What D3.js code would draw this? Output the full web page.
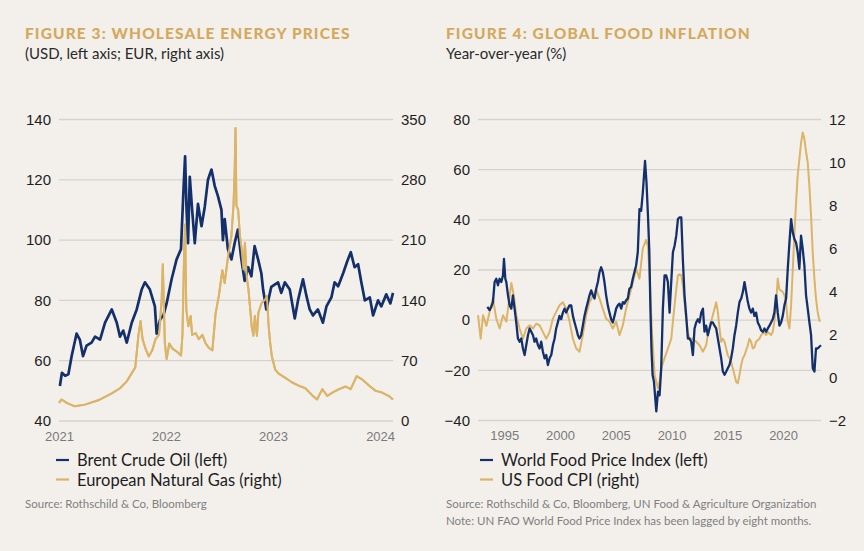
<!DOCTYPE html>
<html><head><meta charset="utf-8">
<script src="https://cdn.jsdelivr.net/npm/d3@7"></script>
<style>
html,body{margin:0;padding:0;background:#f3f0ec;}
svg{display:block;font-family:Lato,"Noto Sans",sans-serif;}
</style></head><body>
<svg id="c" width="864" height="551"></svg>
<script>
// ---------- FIGURE 3 DATA ----------
const brentData = [
["2021-01-04",51.6],["2021-01-11",56],["2021-01-22",55],["2021-02-02",55.5],["2021-02-13",61.5],["2021-03-02",69],["2021-03-13",67],["2021-03-24",61.5],["2021-04-05",65],["2021-04-22",66],["2021-05-04",68],["2021-05-21",67],["2021-06-07",72.6],["2021-06-30",77],["2021-07-17",72.6],["2021-07-28",68],["2021-08-08",70],["2021-08-20",66],["2021-09-06",72.6],["2021-09-23",77],["2021-10-10",83.6],["2021-10-21",86],["2021-11-07",83.6],["2021-11-24",78],["2021-11-30",69],["2021-12-12",73.7],["2021-12-23",75],
["2022-01-03",79],["2022-01-20",87],["2022-02-06",93.6],["2022-02-21",97],["2022-03-01",115.7],["2022-03-07",127.8],["2022-03-12",110],["2022-03-17",99],["2022-03-23",121],["2022-03-31",110],["2022-04-09",99],["2022-04-20",112],["2022-05-02",104.6],["2022-05-13",111],["2022-05-24",120],["2022-06-05",123.4],["2022-06-16",118],["2022-06-27",114.6],["2022-07-09",110],["2022-07-14",100],["2022-07-20",107],["2022-07-31",97],["2022-08-12",93.6],["2022-08-23",99],["2022-09-03",103.5],["2022-09-15",93.6],["2022-09-26",86.5],["2022-10-08",91],["2022-10-19",88],["2022-10-30",98],["2022-11-11",93.6],["2022-11-22",89],["2022-11-28",83.6],["2022-12-09",77],["2022-12-26",84.5],
["2023-01-18",86],["2023-01-29",82.5],["2023-02-10",86],["2023-02-27",83.6],["2023-03-16",74],["2023-03-27",80],["2023-04-13",87],["2023-04-25",81.4],["2023-05-06",77],["2023-05-17",75],["2023-06-03",77],["2023-06-20",72.6],["2023-07-02",78],["2023-07-19",81],["2023-07-30",86],["2023-08-11",84.7],["2023-08-28",89],["2023-09-11",93],["2023-09-23",96],["2023-10-06",91],["2023-10-18",92],["2023-10-29",86],["2023-11-10",80],["2023-11-27",81],["2023-12-08",75],["2023-12-25",80],
["2024-01-05",78],["2024-01-22",82],["2024-02-05",79],["2024-02-14",82.5]
];
const gasData = [
["2021-01-01",21],["2021-01-10",25],["2021-01-27",21],["2021-02-24",17],["2021-03-30",19],["2021-05-15",24],["2021-06-30",32],["2021-07-28",38],["2021-08-20",46],["2021-09-18",62],["2021-09-29",100],["2021-10-06",116],["2021-10-13",95],["2021-10-22",85],["2021-11-03",75],["2021-11-15",82],["2021-11-26",95],["2021-12-08",100],["2021-12-17",140],["2021-12-21",182],["2021-12-28",90],
["2022-01-03",72],["2022-01-12",90],["2022-01-23",84],["2022-02-09",80],["2022-02-21",76],["2022-02-26",100],["2022-03-04",200],["2022-03-07",228],["2022-03-11",130],["2022-03-18",110],["2022-03-26",122],["2022-03-31",100],["2022-04-12",102],["2022-04-23",95],["2022-05-05",100],["2022-05-16",90],["2022-05-27",85],["2022-06-08",82],["2022-06-19",125],["2022-06-30",145],["2022-07-12",175],["2022-07-20",160],["2022-07-31",190],["2022-08-12",215],["2022-08-19",250],["2022-08-23",290],["2022-08-26",340],["2022-08-29",250],["2022-09-04",245],["2022-09-10",215],["2022-09-16",199],["2022-09-22",176],["2022-09-27",207],["2022-10-03",168],["2022-10-09",153],["2022-10-15",130],["2022-10-20",110],["2022-10-26",99],["2022-10-31",122],["2022-11-07",99],["2022-11-12",126],["2022-11-23",137],["2022-12-05",141],["2022-12-11",145],["2022-12-17",110],["2022-12-22",91],["2022-12-28",75],
["2023-01-08",60],["2023-01-20",55],["2023-02-12",50],["2023-03-06",45],["2023-03-29",41],["2023-04-21",38],["2023-05-14",30],["2023-05-31",25],["2023-06-18",37],["2023-07-05",29],["2023-07-22",33],["2023-08-14",37],["2023-09-06",40],["2023-09-23",37],["2023-10-13",52],["2023-11-02",48],["2023-11-25",41],["2023-12-17",35],
["2024-01-08",33],["2024-01-31",29],["2024-02-14",25]
];
const energyYearTicks = ["2021-01-01","2022-01-01","2023-01-01","2024-01-01"];
const energyDomain = ["2021-01-01","2024-02-14"];
const brentTicks = [40,60,80,100,120,140];
const gasTicks = [0,70,140,210,280,350];

// ---------- FIGURE 4 DATA (decimal year, % y/y) ----------
const wfpiData = [
[1993.48,5.3],[1993.68,4],[1993.83,5.3],[1993.98,7.2],[1994.13,15.2],[1994.28,16.5],[1994.43,13.9],[1994.58,16.5],[1994.73,15.2],[1994.88,17.8],[1994.97,24.4],[1995.09,16.5],[1995.18,15.2],[1995.33,9.9],[1995.48,5.9],[1995.63,4.6],[1995.77,9.9],[1995.92,4.6],[1996.07,-0.9],[1996.22,-7.3],[1996.37,-8.6],[1996.52,-7.3],[1996.67,-11.3],[1996.82,-13.9],[1996.97,-9.9],[1997.12,-6],[1997.27,-3.3],[1997.42,-4.6],[1997.57,-6],[1997.71,-8.6],[1997.86,-7.3],[1998.01,-9.9],[1998.16,-11.3],[1998.31,-8.6],[1998.46,-12.6],[1998.61,-15.2],[1998.76,-13.9],[1998.91,-17.9],[1999.06,-15.2],[1999.21,-13.9],[1999.36,-9.9],[1999.51,-7.3],[1999.65,-3.3],[1999.8,-0.9],[1999.95,1.7],[2000.1,0.4],[2000.25,3],[2000.4,4.6],[2000.55,3],[2000.7,4.6],[2000.85,5.9],[2001.0,5.9],[2001.15,1.7],[2001.3,-0.9],[2001.45,-3.3],[2001.6,-6],[2001.74,-7.3],[2001.89,-6],[2002.04,-2.2],[2002.19,1.7],[2002.34,4.6],[2002.49,7.2],[2002.64,9.9],[2002.79,11.9],[2002.94,9.9],[2003.09,8.6],[2003.24,12.5],[2003.39,15.2],[2003.54,19.2],[2003.68,21.1],[2003.83,19.2],[2003.98,15.2],[2004.13,9.9],[2004.28,5.9],[2004.43,3],[2004.58,0.4],[2004.73,-0.9],[2004.88,1.7],[2005.03,4.6],[2005.18,5.9],[2005.33,6.6],[2005.48,4.6],[2005.63,7.2],[2005.77,6.6],[2005.92,7.9],[2006.07,8.6],[2006.22,12.5],[2006.37,13.2],[2006.52,16.5],[2006.67,19.2],[2006.82,21.8],[2006.97,27.1],[2007.12,44.3],[2007.27,43.6],[2007.42,50.9],[2007.62,63.5],[2007.75,55],[2007.88,42],[2008.0,28],[2008.1,5],[2008.2,-12],[2008.3,-22],[2008.42,-24.5],[2008.63,-36.4],[2008.78,-28.5],[2008.92,-30],[2009.07,-19.2],[2009.22,4.6],[2009.37,17.8],[2009.52,17.8],[2009.67,15.2],[2009.82,3],[2009.97,15.2],[2010.12,27.1],[2010.27,29.7],[2010.42,33.7],[2010.57,40.3],[2010.72,41],[2010.87,41],[2011.01,24.4],[2011.16,9.9],[2011.31,1.7],[2011.46,-7.3],[2011.61,-7.3],[2011.76,-8.6],[2011.91,-13.9],[2012.06,-3.3],[2012.21,-0.9],[2012.36,0.4],[2012.51,-0.9],[2012.66,3],[2012.81,4.6],[2012.95,-4.6],[2013.1,-2.2],[2013.25,-6],[2013.4,-3.3],[2013.55,-0.9],[2013.7,-0.9],[2013.85,-2.2],[2014.0,-3.3],[2014.15,-7.3],[2014.3,-11.3],[2014.45,-15.2],[2014.6,-20.5],[2014.75,-21.8],[2014.9,-20.5],[2015.04,-19.2],[2015.19,-17.9],[2015.34,-15.2],[2015.49,-11.3],[2015.64,-6],[2015.79,-2.2],[2015.94,3],[2016.09,7.2],[2016.24,8.6],[2016.39,11.2],[2016.54,15.2],[2016.69,11.2],[2016.84,7.2],[2016.98,4.6],[2017.13,3],[2017.28,4.6],[2017.43,1.7],[2017.58,3],[2017.73,-0.9],[2017.88,-2.2],[2018.03,-4.1],[2018.18,-4.6],[2018.33,-3.3],[2018.48,-4.6],[2018.63,-3.3],[2018.78,-2.2],[2018.92,-0.9],[2019.07,0.4],[2019.22,3],[2019.37,9.9],[2019.52,3],[2019.67,-2.2],[2019.82,-0.9],[2019.97,1.7],[2020.12,5.9],[2020.27,8.6],[2020.42,20.5],[2020.57,31],[2020.72,40.3],[2020.87,35],[2021.01,32.4],[2021.16,31],[2021.31,27.1],[2021.46,20.5],[2021.61,33.7],[2021.76,28.4],[2021.91,21.8],[2022.06,9.9],[2022.21,4.6],[2022.36,-0.9],[2022.51,-6],[2022.66,-19.2],[2022.81,-20.5],[2022.95,-11.3],[2023.1,-11.3],[2023.25,-10.6],[2023.4,-10]
];
const usFoodCpiData = [
[1992.64,2.9],[1992.88,1.8],[1993.09,2.9],[1993.39,2.4],[1993.68,3.05],[1993.98,3.67],[1994.28,2.74],[1994.58,2.28],[1994.88,2.9],[1995.18,2.6],[1995.48,3.8],[1995.63,4.4],[1995.86,3.8],[1996.07,2.9],[1996.37,2.28],[1996.67,1.8],[1996.97,2.28],[1997.27,2.43],[1997.57,2.28],[1997.86,2.5],[1998.16,2.43],[1998.46,2.12],[1998.76,1.8],[1999.06,2.12],[1999.36,2.74],[1999.65,3.05],[1999.95,3.36],[2000.25,3.5],[2000.55,3.2],[2000.85,2.6],[2001.15,1.8],[2001.45,1.35],[2001.74,1.2],[2002.04,1.97],[2002.34,2.9],[2002.64,3.5],[2002.94,3.8],[2003.24,4.1],[2003.54,3.67],[2003.83,3.2],[2004.13,2.74],[2004.43,2.6],[2004.73,2.28],[2005.03,2.6],[2005.33,1.97],[2005.63,2.43],[2005.92,3.2],[2006.22,3.8],[2006.52,4.4],[2006.82,5.06],[2007.12,4.6],[2007.42,6.0],[2007.71,6.4],[2007.88,6.1],[2008.05,4.5],[2008.25,2.0],[2008.48,0.12],[2008.78,-0.5],[2008.92,-0.2],[2009.07,0.43],[2009.37,0.9],[2009.67,1.35],[2009.97,1.8],[2010.12,2.6],[2010.27,3.36],[2010.42,4.1],[2010.57,4.75],[2010.72,4.8],[2010.87,4.75],[2011.01,4.3],[2011.16,3.5],[2011.31,2.74],[2011.46,2.12],[2011.61,1.8],[2011.91,1.8],[2012.21,1.66],[2012.51,1.5],[2012.81,1.2],[2013.1,1.5],[2013.25,1.97],[2013.55,2.6],[2013.85,3.2],[2014.0,3.5],[2014.15,3.05],[2014.3,2.28],[2014.45,1.66],[2014.6,1.8],[2014.75,1.66],[2015.04,1.04],[2015.19,0.9],[2015.34,0.73],[2015.49,0.43],[2015.64,0.12],[2015.79,-0.2],[2015.94,-0.27],[2016.09,0.12],[2016.24,0.58],[2016.39,0.9],[2016.54,1.04],[2016.84,1.5],[2016.98,1.8],[2017.13,1.66],[2017.28,1.35],[2017.43,1.4],[2017.58,1.66],[2017.88,1.8],[2018.03,1.97],[2018.33,2.12],[2018.48,1.97],[2018.63,2.12],[2018.92,1.97],[2019.07,2.12],[2019.22,2.6],[2019.37,3.36],[2019.52,4.6],[2019.67,4.1],[2019.97,3.98],[2020.12,3.82],[2020.27,3.5],[2020.42,2.6],[2020.57,2.28],[2020.72,3.36],[2020.87,5.06],[2021.01,6.6],[2021.16,8.1],[2021.31,9.4],[2021.46,10.15],[2021.61,10.9],[2021.76,11.4],[2021.91,11.1],[2022.06,10.5],[2022.21,10.0],[2022.36,8.9],[2022.51,7.5],[2022.66,5.8],[2022.81,4.6],[2022.95,3.67],[2023.1,3.05],[2023.25,2.67],[2023.34,2.6]
];
const foodYearTicks = [1995,2000,2005,2010,2015,2020];
const foodDomain = [1992.64,2023.4];
const wfpiTicks = [-40,-20,0,20,40,60,80];
const cpiTicks = [-2,0,2,4,6,8,10,12];

// ---------- STYLE ----------
const NAVY = "#14306a", GOLD = "#dbb468", TITLE = "#d4a95c", GRID = "#d8d2cc";

const svg = d3.select("#c");
svg.append("rect").attr("width",864).attr("height",551).attr("fill","#f3f0ec");

const parse = d3.timeParse("%Y-%m-%d");

function panel(o){
  const g = svg.append("g");
  g.append("text").attr("x",o.tx).attr("y",39).text(o.title)
    .attr("fill",TITLE).attr("font-weight",900).attr("font-size",15.5).attr("letter-spacing",1.1);
  g.append("text").attr("x",o.tx).attr("y",59).text(o.subtitle)
    .attr("fill","#2a2a2a").attr("font-size",15);
  // gridlines
  g.append("g").selectAll("line").data(o.leftTicks).join("line")
    .attr("x1",o.x.range()[0]).attr("x2",o.x.range()[1])
    .attr("y1",d=>o.yL(d)).attr("y2",d=>o.yL(d))
    .attr("stroke",GRID).attr("stroke-width",1.3);
  // axes
  const ax = g.append("g").attr("transform",`translate(${o.x.range()[0]-5},0)`)
    .call(d3.axisLeft(o.yL).tickValues(o.leftTicks).tickSize(0));
  const ax2 = g.append("g").attr("transform",`translate(${o.x.range()[1]+5},0)`)
    .call(d3.axisRight(o.yR).tickValues(o.rightTicks).tickSize(0));
  [ax,ax2].forEach(a=>{a.select(".domain").remove();
    a.selectAll("text").attr("fill","#1e1e1e").attr("font-size",15).attr("font-family",null);});
  const bx = g.append("g").attr("transform",`translate(0,${o.yL.range()[0]+2})`)
    .call(d3.axisBottom(o.x).tickValues(o.xTicks).tickSize(0).tickFormat(o.xFormat));
  bx.select(".domain").remove();
  bx.selectAll("text").attr("fill","#7a7a7a").attr("font-size",13).attr("font-family",null).attr("dy","1.15em");
  // lines
  const l2 = d3.line().x(d=>o.x(o.xv(d[0]))).y(d=>o.yR(d[1]));
  const l1 = d3.line().x(d=>o.x(o.xv(d[0]))).y(d=>o.yL(d[1]));
  g.append("path").datum(o.s2).attr("fill","none").attr("stroke",GOLD).attr("stroke-width",2)
    .attr("stroke-linejoin","round").attr("d",l2);
  g.append("path").datum(o.s1).attr("fill","none").attr("stroke",NAVY).attr("stroke-width",o.w1)
    .attr("stroke-linejoin","round").attr("d",l1);
  if(o.front){ g.append("path").datum(o.s2).attr("fill","none").attr("stroke",GOLD).attr("stroke-width",2)
    .attr("stroke-linejoin","round").attr("d",l2); }
  // legend
  o.legend.forEach((L,i)=>{
    const y = 460 + i*19.5;
    g.append("line").attr("x1",o.lx).attr("x2",o.lx+13).attr("y1",y).attr("y2",y)
      .attr("stroke",L[1]).attr("stroke-width",2.2);
    g.append("text").attr("x",o.lx+21).attr("y",y+6).text(L[0]).attr("fill","#1e1e1e").attr("font-size",16.5);
  });
  o.notes.forEach((t,i)=>{
    g.append("text").attr("x",o.tx).attr("y",508+i*17).text(t).attr("fill","#808080").attr("font-size",11.5);
  });
}

panel({
  title:"FIGURE 3: WHOLESALE ENERGY PRICES", subtitle:"(USD, left axis; EUR, right axis)", tx:25,
  x: d3.scaleTime().domain(energyDomain.map(parse)).range([59,393]),
  xv: parse, xTicks: energyYearTicks.map(parse), xFormat: d3.timeFormat("%Y"),
  yL: d3.scaleLinear().domain([40,140]).range([421,119.5]),
  yR: d3.scaleLinear().domain([0,350]).range([421,119.5]),
  leftTicks: brentTicks, rightTicks: gasTicks,
  s1: brentData, s2: gasData, front:true, w1:2.7,
  lx:56, legend:[["Brent Crude Oil (left)",NAVY],["European Natural Gas (right)",GOLD]],
  notes:["Source: Rothschild & Co, Bloomberg"]
});
panel({
  title:"FIGURE 4: GLOBAL FOOD INFLATION", subtitle:"Year-over-year (%)", tx:446,
  x: d3.scaleLinear().domain(foodDomain).range([478,821]),
  xv: d=>d, xTicks: foodYearTicks, xFormat: d3.format("d"),
  yL: d3.scaleLinear().domain([-40,80]).range([420.5,119.5]),
  yR: d3.scaleLinear().domain([-2,12]).range([420.5,119.5]),
  leftTicks: wfpiTicks, rightTicks: cpiTicks,
  s1: wfpiData, s2: usFoodCpiData, front:false, w1:2.3,
  lx:480, legend:[["World Food Price Index (left)",NAVY],["US Food CPI (right)",GOLD]],
  notes:["Source: Rothschild & Co, Bloomberg, UN Food & Agriculture Organization","Note: UN FAO World Food Price Index has been lagged by eight months."]
});
</script>
</body></html>
